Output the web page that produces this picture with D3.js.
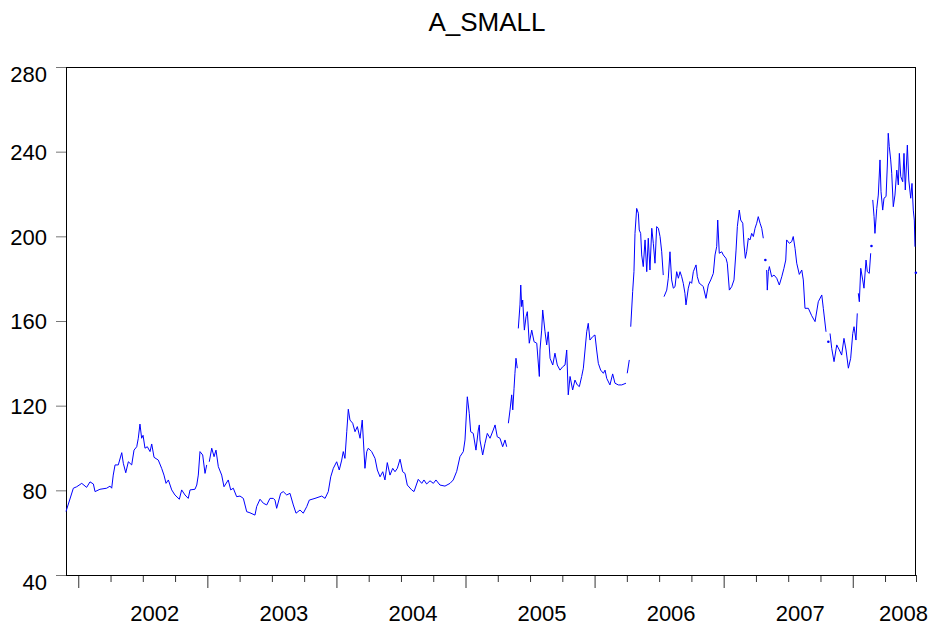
<!DOCTYPE html>
<html><head><meta charset="utf-8">
<script src="https://cdn.jsdelivr.net/npm/d3@7"></script>
<style>
body{margin:0;background:#fff}
svg{display:block}
text{font-family:"Liberation Sans",Arial,Helvetica,sans-serif;fill:#000}
</style>
</head><body>
<svg id="chart" width="934" height="630"></svg>
<script>
// ---------- data ----------
const chartTitle = "A_SMALL";
const yTickValues = [40, 80, 120, 160, 200, 240, 280];
const yearLabels = [2002, 2003, 2004, 2005, 2006, 2007, 2008];
const timeDomain = [2001.905, 2008.49];

// [decimal year, value]; null value = missing observation (gap)
const s2001 = [[2001.905,70],[2001.962,81],[2001.988,81.7]];
const s2002 = [[2002.027,83.3],[2002.065,81.4],[2002.091,84],[2002.117,83],[2002.130,79.4],[2002.168,80.5],[2002.220,81],[2002.246,82],[2002.259,81],[2002.271,87.2],[2002.285,92],[2002.310,92],[2002.337,97.8],[2002.349,92.8],[2002.368,88.3],[2002.388,93.5],[2002.414,92],[2002.432,99],[2002.453,100.6],[2002.465,104.6],[2002.478,111.3],[2002.491,104.6],[2002.502,106],[2002.517,99.9],[2002.535,100.6],[2002.556,98.3],[2002.569,101.9],[2002.587,95.6],[2002.620,94.3],[2002.646,90.4],[2002.664,87.2],[2002.680,83.3],[2002.698,84.9],[2002.724,80.2],[2002.749,77.8],[2002.783,75.8],[2002.801,80.2],[2002.827,77.8],[2002.852,76.2],[2002.866,80.2],[2002.904,80.5],[2002.918,82.5],[2002.930,87.2],[2002.943,98.3],[2002.964,96.7],[2002.982,88],[2002.995,92],[2003.005,null]];
const s2003 = [[2003.015,93.5],[2003.034,99.9],[2003.052,95.9],[2003.067,99],[2003.085,91.2],[2003.111,87.2],[2003.129,81.7],[2003.162,84.9],[2003.181,80.2],[2003.201,81],[2003.227,77],[2003.253,77.3],[2003.279,76.2],[2003.305,69.9],[2003.330,69.4],[2003.369,68.3],[2003.382,72.3],[2003.408,75.8],[2003.434,73.9],[2003.460,73.1],[2003.485,76.2],[2003.511,76.2],[2003.524,75.4],[2003.537,71.5],[2003.568,78.6],[2003.588,79.4],[2003.615,77.8],[2003.640,78.6],[2003.666,73.1],[2003.687,69.2],[2003.718,70.7],[2003.743,69.2],[2003.770,72.3],[2003.790,75.4],[2003.834,76.2],[2003.886,77.3],[2003.912,76.2],[2003.937,79.4],[2003.956,86.4],[2003.976,90.4]];
const s2004 = [[2004.002,93.5],[2004.022,89.6],[2004.041,94.3],[2004.053,98.3],[2004.066,95.1],[2004.080,107.7],[2004.092,118.3],[2004.105,113.2],[2004.126,111.7],[2004.144,107.7],[2004.162,110.1],[2004.183,104.6],[2004.200,113.2],[2004.221,90.4],[2004.235,98.3],[2004.247,99.9],[2004.273,98.3],[2004.299,95.1],[2004.317,89.6],[2004.338,86.4],[2004.359,88.8],[2004.376,84.9],[2004.394,93.1],[2004.415,87.2],[2004.436,90.4],[2004.454,88.8],[2004.472,90.4],[2004.493,94.7],[2004.513,88.8],[2004.531,88],[2004.549,82.5],[2004.583,80.2],[2004.601,79.4],[2004.634,85.2],[2004.661,83.3],[2004.678,84.9],[2004.699,83],[2004.725,84.5],[2004.751,83.3],[2004.771,84.9],[2004.802,82.5],[2004.841,82],[2004.880,83.3],[2004.905,84.9],[2004.932,89],[2004.957,95.9],[2004.983,98.3],[2004.996,103.8]];
const s2005 = [[2005.014,124.2],[2005.029,116.4],[2005.040,107.7],[2005.060,106.9],[2005.081,99],[2005.099,108.5],[2005.107,110.9],[2005.112,103.8],[2005.133,96.7],[2005.151,102.2],[2005.169,106.9],[2005.190,104.6],[2005.215,108.5],[2005.229,110.9],[2005.246,105.3],[2005.267,104.6],[2005.288,100.6],[2005.306,103.8],[2005.319,100.6],[2005.325,null],[2005.332,111.7],[2005.345,118],[2005.358,125.1],[2005.366,118],[2005.376,128.2],[2005.383,135.3],[2005.391,142.4],[2005.401,137.7],[2005.405,null],[2005.409,156.5],[2005.422,167.6],[2005.428,177],[2005.435,166.8],[2005.443,169.9],[2005.456,155.7],[2005.469,162],[2005.479,164.4],[2005.494,149.5],[2005.513,155.7],[2005.531,150.2],[2005.552,149.5],[2005.572,133.8],[2005.577,146.3],[2005.590,155.7],[2005.598,165.2],[2005.616,154.9],[2005.629,148.7],[2005.641,154.9],[2005.655,142.4],[2005.676,139.2],[2005.693,144.8],[2005.711,139.2],[2005.732,136.8],[2005.753,138.4],[2005.771,139.2],[2005.784,146.3],[2005.796,125.1],[2005.810,133.8],[2005.830,127.4],[2005.848,132.1],[2005.866,129.8],[2005.882,129],[2005.900,133.8],[2005.913,137.7],[2005.926,146.3],[2005.939,154.9],[2005.951,158.9],[2005.964,151],[2005.985,152.6]];
const s2006 = [[2006.003,153.4],[2006.016,146.3],[2006.029,140],[2006.047,136.8],[2006.068,135.3],[2006.081,136.8],[2006.094,132.9],[2006.119,129.8],[2006.140,135],[2006.158,130.6],[2006.184,129.8],[2006.210,129.8],[2006.243,130.6],[2006.248,null],[2006.253,135.3],[2006.269,141.6],[2006.275,null],[2006.280,157.3],[2006.295,173.9],[2006.305,183.3],[2006.313,201.4],[2006.326,213.2],[2006.339,210.9],[2006.346,203],[2006.357,201.4],[2006.365,191.2],[2006.377,185.7],[2006.391,198.3],[2006.404,183.3],[2006.416,199.1],[2006.429,184.1],[2006.443,203.8],[2006.455,196.7],[2006.468,187.3],[2006.481,204.6],[2006.494,203.8],[2006.507,199.9],[2006.520,192.7],[2006.532,181.7],[2006.535,null],[2006.538,171.5],[2006.559,174.6],[2006.571,180.2],[2006.584,192.7],[2006.597,179.4],[2006.610,175.5],[2006.623,176.2],[2006.636,183.3],[2006.649,180.2],[2006.662,183.3],[2006.675,180.9],[2006.687,177.8],[2006.700,173.1],[2006.708,167.6],[2006.726,175.5],[2006.739,178.6],[2006.752,177.8],[2006.765,183.3],[2006.786,186.5],[2006.796,180.9],[2006.811,177.8],[2006.830,177],[2006.842,176.2],[2006.863,170.7],[2006.881,177],[2006.900,179.4],[2006.920,182.5],[2006.933,191.2],[2006.946,195.1],[2006.954,207.7],[2006.966,192],[2006.985,192.7],[2006.997,191.2]];
const s2007 = [[2007.018,189.6],[2007.028,187.3],[2007.044,174.6],[2007.062,176.2],[2007.080,179.4],[2007.096,193.5],[2007.106,204.6],[2007.121,212.4],[2007.132,207.7],[2007.148,206.2],[2007.158,195.9],[2007.168,189.6],[2007.178,192.7],[2007.191,199.1],[2007.204,198.3],[2007.217,201.4],[2007.230,199.9],[2007.243,203.8],[2007.256,206.2],[2007.268,209.3],[2007.282,206.2],[2007.295,203.8],[2007.307,199.1],[2007.315,null],[2007.323,188.8],[2007.328,null],[2007.333,184.1],[2007.338,174.6],[2007.346,183.3],[2007.354,185.7],[2007.372,180.9],[2007.390,181.7],[2007.411,180.2],[2007.431,177],[2007.450,180.9],[2007.467,184.9],[2007.481,188.8],[2007.488,198.3],[2007.509,196.7],[2007.527,197.5],[2007.539,199.9],[2007.553,194.3],[2007.566,187.3],[2007.586,182],[2007.605,184.1],[2007.617,179.4],[2007.630,166],[2007.656,166],[2007.682,162.5],[2007.708,159.7],[2007.733,169.1],[2007.760,172.3],[2007.772,166],[2007.793,154.9],[2007.802,null],[2007.811,150.2],[2007.818,null],[2007.824,154.1],[2007.837,147.1],[2007.855,140.8],[2007.876,148.7],[2007.896,146.3],[2007.914,143.9],[2007.932,151.8],[2007.948,146.3],[2007.966,137.7],[2007.984,142.4]];
const s2008 = [[2008.000,154.1],[2008.010,157.3],[2008.025,151],[2008.035,163.6],[2008.039,null],[2008.043,173.1],[2008.051,169.1],[2008.062,184.9],[2008.077,179.4],[2008.087,175.5],[2008.103,188.8],[2008.113,183.3],[2008.128,182.5],[2008.139,192],[2008.142,null],[2008.145,195.4],[2008.150,null],[2008.155,217.2],[2008.165,209.3],[2008.172,201.4],[2008.186,213.2],[2008.198,219.5],[2008.211,236.1],[2008.219,221.1],[2008.232,212.4],[2008.242,218],[2008.258,218.8],[2008.268,233.7],[2008.275,248.7],[2008.283,242.4],[2008.294,236.1],[2008.302,229.8],[2008.314,214],[2008.327,219.5],[2008.341,231.3],[2008.353,224.3],[2008.361,239.2],[2008.372,228.2],[2008.387,225.8],[2008.397,239.2],[2008.407,221.9],[2008.423,243.1],[2008.434,226.6],[2008.449,218],[2008.459,225],[2008.469,212.4],[2008.477,207.7],[2008.482,195.1],[2008.485,null],[2008.489,182.8]];

// ---------- chart ----------
const series = [].concat(s2001, s2002, s2003, s2004, s2005, s2006, s2007, s2008);
const W = 934, H = 630;
const m = {left: 66, right: 916, top: 67, bottom: 575};
const svg = d3.select("#chart");

const x = d3.scaleLinear().domain(timeDomain).range([m.left, m.right]);
const y = d3.scaleLinear().domain([40, 280]).range([m.bottom, m.top]);

// title
svg.append("text").attr("x", 487).attr("y", 31).attr("text-anchor", "middle")
  .style("font-size", "26px").text(chartTitle);

// y axis
const yAxis = svg.append("g").attr("transform", `translate(${m.left},0)`)
  .call(d3.axisLeft(y).tickValues(yTickValues).tickSize(10).tickPadding(9).tickFormat(d3.format("d")));
yAxis.select(".domain").remove();
yAxis.selectAll(".tick line").attr("stroke", "#777");
yAxis.selectAll(".tick text").style("font-size", "22px").attr("fill", "#000")
  .attr("dy", (d, i, n) => (i === 0 || i === n.length - 1) ? "0.68em" : "0.35em");

// x axis (quarterly ticks, long at year starts)
const quarterTicks = d3.range(Math.ceil(timeDomain[0] * 4), Math.floor(timeDomain[1] * 4) + 1).map(q => q / 4);
quarterTicks.push(timeDomain[1]);
const xAxis = svg.append("g").attr("transform", `translate(0,${m.bottom})`)
  .call(d3.axisBottom(x).tickValues(quarterTicks).tickSize(7).tickFormat(""));
xAxis.select(".domain").remove();
xAxis.selectAll(".tick line")
  .attr("stroke", "#333")
  .attr("y2", d => Number.isInteger(d) ? 13 : 7);

// year labels
svg.append("g").selectAll("text").data(yearLabels).join("text")
  .attr("x", d => Math.min(x(d + 0.5) + 12, W - 30.5))
  .attr("y", 621)
  .attr("text-anchor", "middle")
  .style("font-size", "22px")
  .text(d => d);

// frame
svg.append("rect")
  .attr("x", m.left + 0.5).attr("y", m.top + 0.5)
  .attr("width", m.right - m.left - 1).attr("height", m.bottom - m.top)
  .attr("fill", "none").attr("stroke", "#000").attr("stroke-width", 1);

// line with gaps
const line = d3.line().defined(d => d[1] != null).x(d => x(d[0])).y(d => y(d[1]));
svg.append("path").datum(series)
  .attr("d", line)
  .attr("fill", "none").attr("stroke", "#0000ff").attr("stroke-width", 1);

// isolated observations shown as dots
const isolated = series.filter((d, i) => d[1] != null &&
  (i === 0 || series[i - 1][1] == null) && (i === series.length - 1 || series[i + 1][1] == null));
svg.append("g").selectAll("circle").data(isolated).join("circle")
  .attr("cx", d => x(d[0])).attr("cy", d => y(d[1])).attr("r", 1.3).attr("fill", "#0000ff");
</script>
</body></html>
